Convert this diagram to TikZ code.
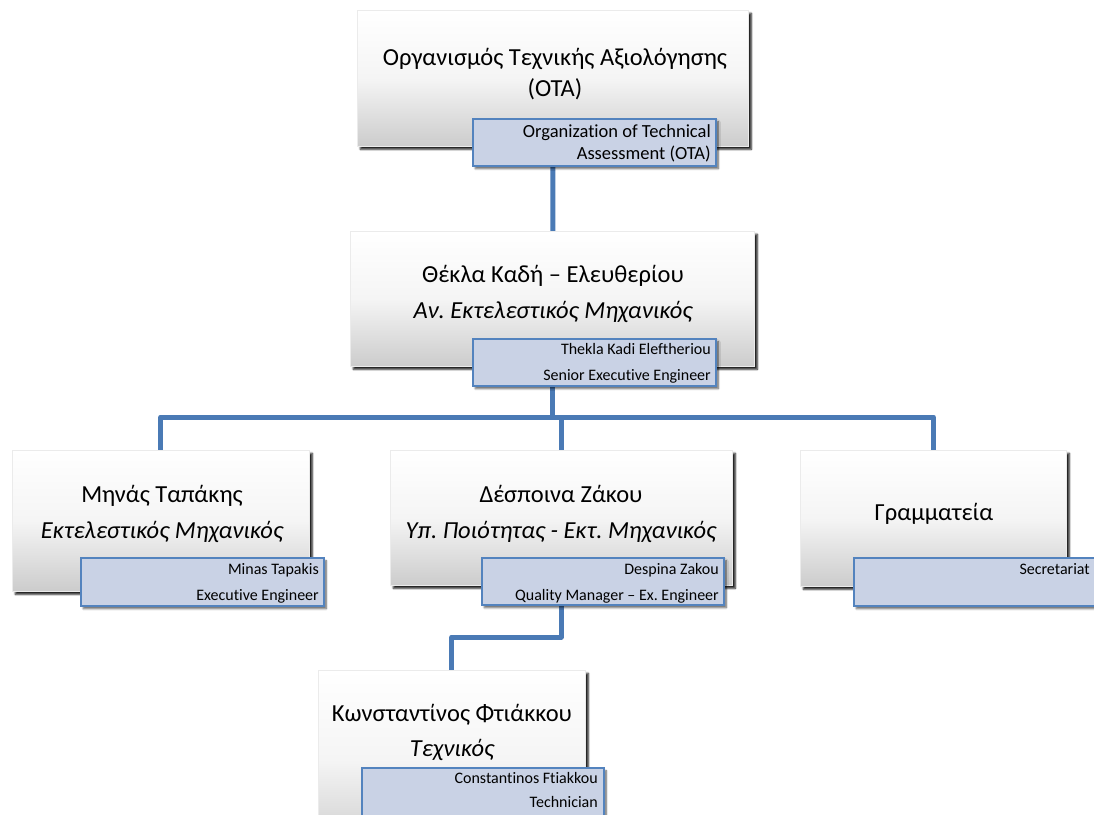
\documentclass[tikz,border=0pt]{standalone}
\usepackage{fontspec}
\setmainfont{Carlito}[Ligatures={NoCommon}]
\usetikzlibrary{shadows.blur,backgrounds}
\definecolor{conncol}{HTML}{4A7AB5}
\definecolor{subfill}{HTML}{C9D2E5}
\definecolor{subdraw}{HTML}{5383BE}
\tikzset{
  mainbox/.style={rectangle, anchor=north west, inner sep=0pt, draw=black!8, line width=0.6pt,
    top color=white, bottom color=black!20, middle color=white!96!black,
    blur shadow={shadow xshift=3pt, shadow yshift=-3pt, shadow blur steps=5, shadow opacity=90}},
  subbox/.style={rectangle, anchor=north west, inner sep=0pt, draw=subdraw, line width=1.5pt,
    fill=subfill,
    blur shadow={shadow xshift=2.5pt, shadow yshift=-3pt, shadow blur steps=5, shadow opacity=60}},
  maintext/.style={font=\fontsize{24.5}{29}\selectfont, anchor=base, inner sep=0pt},
  subtext/.style={font=\fontsize{16}{19}\selectfont, anchor=base east, inner sep=0pt},
  subtextbig/.style={font=\fontsize{18.5}{22}\selectfont, anchor=base east, inner sep=0pt},
  conn/.style={draw=conncol, line width=5pt, line join=round}
}
\begin{document}
\frenchspacing
\begin{tikzpicture}[x=1pt,y=-1pt]
\useasboundingbox (0,0) rectangle (1094,814);
\clip (0,0) rectangle (1094,814);

% top
\node[mainbox, minimum width=391pt, minimum height=136pt] (b1) at (357,10) {};
\node[subbox, minimum width=243pt, minimum height=47pt] (s1) at (472,118) {};
\node[maintext] (t1a) at (555,65) {Οργανισμός Τεχνικής Αξιολόγησης};
\node[maintext] (t1b) at (555,96) {(OTA)};
\node[subtextbig] (u1a) at (711,137) {Organization of Technical};
\node[subtextbig] (u1b) at (711,159) {Assessment (OTA)};

% second
\node[mainbox, minimum width=404pt, minimum height=135pt] (b2) at (350,231) {};
\node[subbox, minimum width=243pt, minimum height=47pt] (s2) at (472,338) {};
\node[maintext] (t2a) at (553,282) {Θέκλα Καδή – Ελευθερίου};
\node[maintext] (t2b) at (553,318) {\itshape Αν. Εκτελεστικός Μηχανικός};
\node[subtext] (u2a) at (711,354) {Thekla Kadi Eleftheriou};
\node[subtext] (u2b) at (711,380) {Senior Executive Engineer};

% left
\node[mainbox, minimum width=297pt, minimum height=141pt] (bL) at (12,450) {};
\node[subbox, minimum width=243pt, minimum height=48pt] (sL) at (80,557) {};
\node[maintext] (tLa) at (162,502) {Μηνάς Ταπάκης};
\node[maintext] (tLb) at (162,538) {\itshape Εκτελεστικός Μηχανικός};
\node[subtext] (uLa) at (319,574) {Minas Tapakis};
\node[subtext] (uLb) at (319,600) {Executive Engineer};

% middle
\node[mainbox, minimum width=342pt, minimum height=135pt] (bM) at (390,450) {};
\node[subbox, minimum width=242pt, minimum height=47pt] (sM) at (481,557) {};
\node[maintext] (tMa) at (561,502) {Δέσποινα Ζάκου};
\node[maintext] (tMb) at (561,538) {\itshape Υπ. Ποιότητας - Εκτ. Μηχανικός};
\node[subtext] (uMa) at (719,574) {Despina Zakou};
\node[subtext] (uMb) at (719,600) {Quality Manager – Ex. Engineer};

% right
\node[mainbox, minimum width=266pt, minimum height=136pt] (bR) at (800,450) {};
\node[subbox, minimum width=260pt, minimum height=48pt] (sR) at (853,557) {};
\node[maintext] (tRa) at (934,520) {Γραμματεία};
\node[subtext] (uRa) at (1090,574) {Secretariat};

% bottom
\node[mainbox, minimum width=267pt, minimum height=180pt] (bB) at (318,670) {};
\node[subbox, minimum width=242pt, minimum height=60pt] (sB) at (361,767) {};
\node[maintext] (tBa) at (452,721) {Κωνσταντίνος Φτιάκκου};
\node[maintext] (tBb) at (452,756) {\itshape Τεχνικός};
\node[subtext] (uBa) at (598,783) {Constantinos Ftiakkou};
\node[subtext] (uBb) at (598,807) {Technician};

\coordinate (bus) at (0,417);
\coordinate (elbow) at (0,637);
\begin{pgfonlayer}{background}
\draw[conn] (b1.center) -- (b1.center |- b2.north) -- (b2.center);
\draw[conn] (b2.center) -- (b2.center |- bus);
\draw[conn] (bL.center) -- (bL.center |- bus) -- (bR.center |- bus) -- (bR.center);
\draw[conn] (bM.center) -- (bM.center |- bus);
\draw[conn] (bM.center) -- (bM.center |- elbow) -- (bB.center |- elbow) -- (bB.center);
\end{pgfonlayer}
\end{tikzpicture}
\end{document}
